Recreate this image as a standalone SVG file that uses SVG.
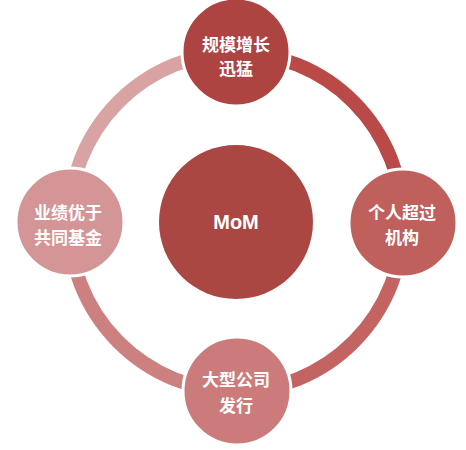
<svg xmlns="http://www.w3.org/2000/svg" width="466" height="450" viewBox="0 0 466 450">
<style>
.arc{fill:none;stroke-width:14}
.node{stroke:#ffffff;stroke-width:3}
.t{font-family:"Noto Sans CJK SC",sans-serif;font-weight:bold;font-size:17px;fill:#ffffff;text-anchor:middle;dominant-baseline:central}
.m{font-family:"Liberation Sans",Arial,sans-serif;font-weight:bold;font-size:20px;fill:#ffffff;text-anchor:middle;dominant-baseline:central}
</style>
<rect width="466" height="450" fill="#ffffff"/>
<g id="connectors">
<path class="arc" stroke="#b94a48" d="M236,53 A167,169 0 0 1 403,222"/>
<path class="arc" stroke="#c46462" d="M403,222 A167,169 0 0 1 236,391"/>
<path class="arc" stroke="#cc8080" d="M236,391 A167,169 0 0 1 69,222"/>
<path class="arc" stroke="#d9a3a3" d="M69,222 A167,169 0 0 1 236,53"/>
</g>
<g id="center">
<circle cx="236" cy="222" r="77" fill="#ab4743"/>
<text class="m" x="236" y="222">MoM</text>
</g>
<g id="top">
<circle class="node" cx="236" cy="52" r="54" fill="#ae4441"/>
<text class="t" x="236" y="43">规模增长</text>
<text class="t" x="236" y="67">迅猛</text>
</g>
<g id="right">
<circle class="node" cx="403" cy="223" r="54" fill="#c0605c"/>
<text class="t" x="402" y="211">个人超过</text>
<text class="t" x="402" y="236">机构</text>
</g>
<g id="bottom">
<circle class="node" cx="237" cy="391" r="54" fill="#cc7b7b"/>
<text class="t" x="236" y="378">大型公司</text>
<text class="t" x="236" y="404">发行</text>
</g>
<g id="left">
<circle class="node" cx="70" cy="222" r="54" fill="#d39595"/>
<text class="t" x="68" y="211">业绩优于</text>
<text class="t" x="68" y="236">共同基金</text>
</g>
</svg>
